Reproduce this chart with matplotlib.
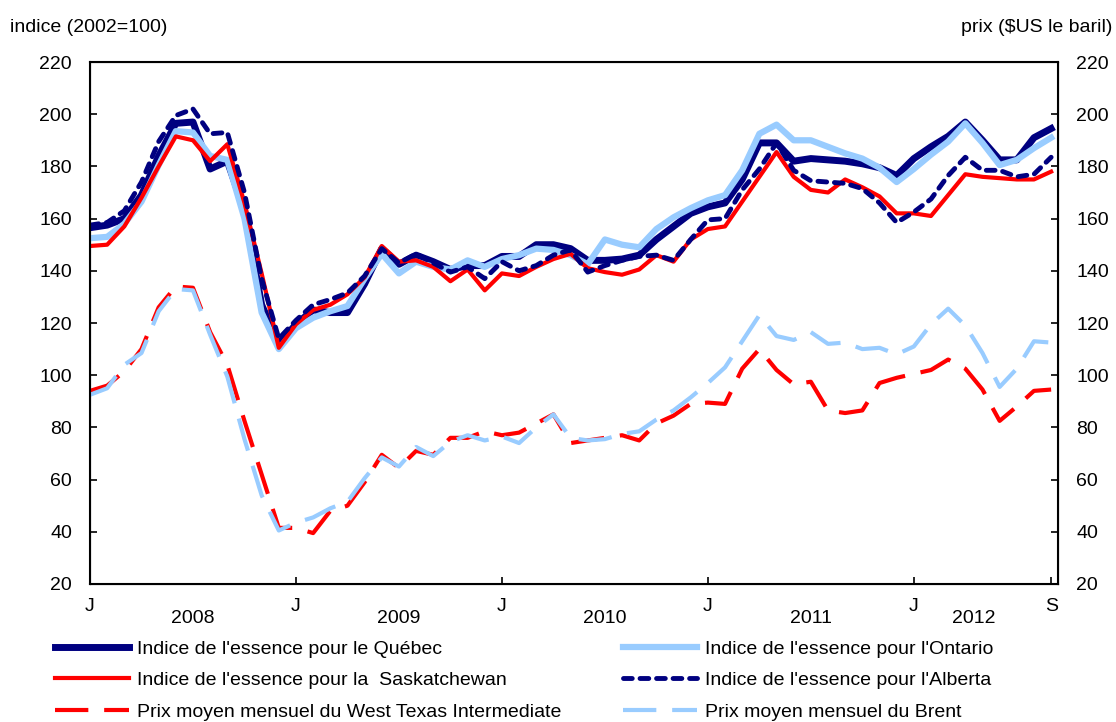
import matplotlib
matplotlib.use("Agg")
import matplotlib.pyplot as plt
import numpy as np

plt.rcParams['font.family'] = ['Liberation Sans', 'DejaVu Sans']

# monthly, Jan 2008 .. Sep 2012
quebec = [156.5, 157.5, 160, 169, 184, 196.5, 197, 179, 182, 163, 127, 112,
          119.5, 125, 124, 124, 135, 148.5, 142.5, 146, 143.5, 140.5, 142, 142,
          145.5, 145.5, 150, 150, 148.5, 144, 144, 144.5, 146, 152, 157, 162,
          164.5, 166, 175, 189, 189, 182, 183, 182.5, 182, 181, 179.5, 176.5,
          183, 187.5, 191.5, 197, 190, 182.5, 182.5, 191, 194.5]
ontario = [152.5, 153, 158, 166.5, 180.5, 193.5, 193, 184, 182.5, 160, 124, 110,
           118, 122, 124.5, 126.5, 137, 146.5, 139, 143.5, 141.5, 140.5, 144, 141.5,
           144.5, 146, 148.5, 148, 146, 142.5, 152, 150, 149, 156, 160.5, 164,
           167, 169, 178.5, 192.5, 196, 190, 190, 187.5, 185, 183, 179.5, 174,
           179, 184.5, 189.5, 196.5, 189, 180.5, 182.5, 187, 191]
saskatchewan = [149.5, 150, 157, 168, 180, 191.5, 190, 182, 188.5, 166, 139, 110.5,
                119.5, 125, 127, 131, 137.5, 149.5, 143.5, 144, 141.5, 136, 140.5, 132.5,
                139, 138, 141.5, 144.5, 146.5, 141, 139.5, 138.5, 140.5, 146, 143.5, 152,
                156, 157, 166.5, 176, 185.5, 176, 171, 170, 175, 172, 168.5, 162,
                162, 161, 169, 177, 176, 175.5, 175, 175, 178]
alberta = [157.5, 158.5, 163, 174, 189.5, 199.5, 202, 192.5, 193, 170, 137, 114,
           121, 127, 129, 131.5, 138, 148.5, 143, 146.5, 143, 139.5, 141.5, 137,
           143.5, 140, 142, 146, 148, 139.5, 142, 144, 145.5, 146, 144, 152,
           159.5, 160, 171, 179, 189, 178.5, 174.5, 174, 173.5, 171.5, 166, 158.5,
           162.5, 167.5, 176.5, 183.5, 178.5, 178.5, 176, 177, 183.5]
wti = [94, 96, 101.5, 110, 126, 134, 133.5, 116.5, 104, 82.5, 62, 41.5,
       41.5, 39.5, 48, 50, 59, 69.5, 64.5, 71, 69.5, 76, 76, 78.5,
       77, 78, 81.5, 85, 74, 75, 76, 77, 75, 81.5, 84.5, 89,
       89.5, 89, 102.5, 110, 102, 96.5, 97.5, 86.5, 85.5, 86.5, 97, 99,
       100.5, 102, 106, 102.5, 94.5, 82.5, 88, 94, 94.5]
brent = [92.5, 95, 104, 108.5, 124.5, 133, 132.5, 115.5, 99.5, 75.5, 54, 40.5,
         43.5, 45.5, 49, 51.5, 60.5, 68.5, 65, 72.5, 69, 74.5, 77, 75,
         76.5, 74, 80, 85, 76, 75, 75.5, 77.5, 78.5, 83, 86.5, 91.5,
         97, 103, 113, 123, 115, 113.5, 116.5, 112, 112.5, 110, 110.5, 108,
         111, 119.5, 125.5, 119, 108.5, 95.5, 102.5, 113, 112.5]

tick_pos = [0, 12, 24, 36, 48, 56]
tick_labels = ['J', 'J', 'J', 'J', 'J', 'S']
years = ['2008', '2009', '2010', '2011', '2012']
year_pos = [6, 18, 30, 42, 51.5]

navy = '#000080'
lblue = '#99CCFF'
red = '#FF0000'
fs = 14

x = np.arange(len(quebec))

fig = plt.figure(figsize=(11.16, 7.22), dpi=100)
ax = fig.add_axes([90/1116, 1-584/722, (1058-90)/1116, (584-62)/722])

ax.plot(x, quebec, color=navy, lw=5,
        label="Indice de l'essence pour le Québec", zorder=3)
ax.plot(x, ontario, color=lblue, lw=4.5,
        label="Indice de l'essence pour l'Ontario", zorder=4)
ax.plot(x, saskatchewan, color=red, lw=3,
        label="Indice de l'essence pour la  Saskatchewan", zorder=5)
ax.plot(x, alberta, color=navy, lw=3.5, dashes=(1.8, 1.6), dash_capstyle='round',
        label="Indice de l'essence pour l'Alberta", zorder=6)
ax.plot(x, wti, color=red, lw=3, dashes=(8, 3.8),
        label="Prix moyen mensuel du West Texas Intermediate", zorder=3)
ax.plot(x, brent, color=lblue, lw=3, dashes=(8, 3.8),
        label="Prix moyen mensuel du Brent", zorder=4)

ax.set_xlim(0, 56.4)
ax.set_ylim(20, 220)
ax.set_yticks(np.arange(20, 221, 20))
ax.set_xticks(tick_pos)
ax.set_xticklabels(tick_labels)
ax.tick_params(axis='both', direction='in', length=5, width=1.2, labelsize=fs)
ax.tick_params(axis='y', pad=13)
ax.tick_params(axis='x', pad=10)
for s in ax.spines.values():
    s.set_linewidth(1.5)

ax2 = ax.twinx()
ax2.set_ylim(20, 220)
ax2.set_yticks(np.arange(20, 221, 20))
ax2.tick_params(axis='y', direction='in', length=5, width=1.2, labelsize=fs, pad=13)

for yr, p in zip(years, year_pos):
    ax.text(p, -0.05, yr, transform=ax.get_xaxis_transform(), ha='center',
            va='top', fontsize=fs)

fig.text(10/1116, 1-27/722, 'indice (2002=100)', ha='left', va='center', fontsize=fs)
fig.text(1112/1116, 1-27/722, 'prix ($US le baril)', ha='right', va='center', fontsize=fs)

h, l = ax.get_legend_handles_labels()
order = [0, 2, 4, 1, 3, 5]
fig.legend([h[i] for i in order], [l[i] for i in order], ncol=2,
           loc='upper left', bbox_to_anchor=(55/1116, 1-640/722), frameon=False,
           fontsize=fs, handlelength=3.8, handletextpad=0.4, labelspacing=0.72,
           columnspacing=3.2, borderpad=0, borderaxespad=0)

fig.savefig('out.png', dpi=100)
